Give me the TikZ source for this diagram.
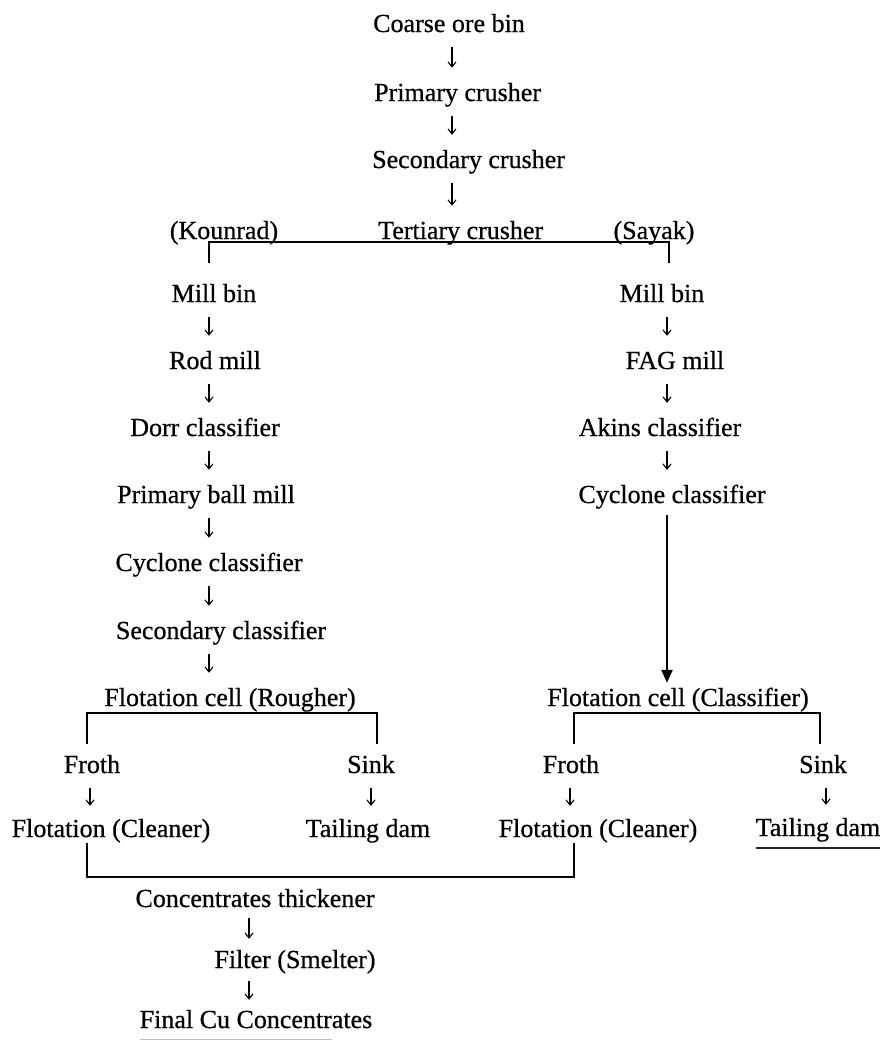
\documentclass[tikz,border=0pt]{standalone}
\usepackage{fontspec}
\setmainfont[FakeBold=0.6]{Liberation Serif}
\usetikzlibrary{arrows.meta}
\begin{document}
\begin{tikzpicture}[x=1pt,y=-1pt,
  lbl/.style={inner sep=0pt,text height=18pt,text depth=6pt,anchor=base,
              font=\fontsize{26}{30}\selectfont},
  lblw/.style={lbl,anchor=base west},
  flow/.style={line width=1.1pt,-{Straight Barb[length=5pt,width=8pt]},
               shorten <=9pt,shorten >=15pt},
  feed/.style={line width=2.4pt,-{Triangle[length=13pt,width=11pt]},
               shorten <=6pt,shorten >=5pt},
  bar/.style={line width=1.8pt}]
\useasboundingbox[fill=white] (0,0) rectangle (884,1045);

% column guides
\coordinate (ctop) at (452,0);
\coordinate (cL) at (209,0);
\coordinate (cR) at (667,0);
\coordinate (cB) at (249,0);

% crushing line
\node[lblw] (coarse) at (373,32)  {Coarse ore bin};
\node[lblw] (prim)   at (374,101) {Primary crusher};
\node[lblw] (sec)    at (372,168) {Secondary crusher};
\node[lblw] (ter)    at (378,239) {Tertiary crusher};
\node[lbl]  (kou)    at (224,239) {(Kounrad)};
\node[lbl]  (say)    at (654,239) {(Sayak)};

% Kounrad grinding line
\node[lbl] (millL) at (214,302) {Mill bin};
\node[lbl] (rod)   at (215,369) {Rod mill};
\node[lbl] (dorr)  at (205,436) {Dorr classifier};
\node[lbl] (pball) at (206,503) {Primary ball mill};
\node[lbl] (cycL)  at (209,571) {Cyclone classifier};
\node[lbl] (secc)  at (221,639) {Secondary classifier};
\node[lbl] (fcRo)  at (230,706) {Flotation cell (Rougher)};

% Sayak grinding line
\node[lbl] (millR) at (662,302) {Mill bin};
\node[lbl] (fag)   at (675,369) {FAG mill};
\node[lbl] (akins) at (660,436) {Akins classifier};
\node[lbl] (cycR)  at (672,503) {Cyclone classifier};
\node[lbl] (fcCl)  at (678,706) {Flotation cell (Classifier)};

% flotation products
\node[lbl] (frothL) at (92,773)  {Froth};
\node[lbl] (sinkL)  at (371,773) {Sink};
\node[lbl] (frothR) at (571,773) {Froth};
\node[lbl] (sinkR)  at (823,773) {Sink};
\node[lbl] (cleanL) at (111,837) {Flotation (Cleaner)};
\node[lbl] (tailL)  at (368,837) {Tailing dam};
\node[lbl] (cleanR) at (598,837) {Flotation (Cleaner)};
\node[lbl] (tailR)  at (818,836) {Tailing dam};

% concentrate handling
\node[lbl] (conc)  at (255,907)  {Concentrates thickener};
\node[lbl] (filt)  at (295,968)  {Filter (Smelter)};
\node[lbl] (final) at (256,1028) {Final Cu Concentrates};

% crushing arrows
\draw[flow] (coarse.south -| ctop) -- (prim.north -| ctop);
\draw[flow] (prim.south -| ctop) -- (sec.north -| ctop);
\draw[flow] (sec.south -| ctop) -- (ter.north -| ctop);

% split to the two plants
\coordinate (jL) at (209,242);
\coordinate (jR) at (669,242);
\draw[bar] ([yshift=21pt]millL.north -| jL) -- (jL) -- (jR) -- ([yshift=21pt]millR.north -| jR);

% Kounrad arrows
\draw[flow] (millL.south -| cL) -- (rod.north -| cL);
\draw[flow] (rod.south -| cL) -- (dorr.north -| cL);
\draw[flow] (dorr.south -| cL) -- (pball.north -| cL);
\draw[flow] (pball.south -| cL) -- (cycL.north -| cL);
\draw[flow] (cycL.south -| cL) -- (secc.north -| cL);
\draw[flow] (secc.south -| cL) -- (fcRo.north -| cL);

% Sayak arrows
\draw[flow] (millR.south -| cR) -- (fag.north -| cR);
\draw[flow] (fag.south -| cR) -- (akins.north -| cR);
\draw[flow] (akins.south -| cR) -- (cycR.north -| cR);
\draw[feed] (cycR.south -| cR) -- (fcCl.north -| cR);

% rougher split
\coordinate (rL) at (87,713);
\coordinate (rR) at (377,713);
\draw[bar] ([yshift=11pt]frothL.north -| rL) -- (rL) -- (rR) -- ([yshift=11pt]sinkL.north -| rR);

% classifier split
\coordinate (kL) at (574,713);
\coordinate (kR) at (820,713);
\draw[bar] ([yshift=11pt]frothR.north -| kL) -- (kL) -- (kR) -- ([yshift=11pt]sinkR.north -| kR);

% froth and sink arrows
\coordinate (c1) at (90,0);
\coordinate (c2) at (371,0);
\coordinate (c3) at (570,0);
\coordinate (c4) at (826,0);
\draw[flow,shorten >=13pt] (frothL.south -| c1) -- (cleanL.north -| c1);
\draw[flow,shorten >=13pt] (sinkL.south -| c2) -- (tailL.north -| c2);
\draw[flow,shorten >=13pt] (frothR.south -| c3) -- (cleanR.north -| c3);
\draw[flow,shorten >=13pt] (sinkR.south -| c4) -- (tailR.north -| c4);

% cleaner concentrates join
\coordinate (bL) at (87,877);
\coordinate (bR) at (574,877);
\draw[bar] (cleanL.south -| bL) -- (bL) -- (bR) -- (cleanR.south -| bR);

% thickener to final product
\draw[flow,shorten <=5pt,shorten >=11pt] (conc.south -| cB) -- (filt.north -| cB);
\draw[flow,shorten <=7pt,shorten >=10pt] (filt.south -| cB) -- (final.north -| cB);

% underlines
\draw[line width=2.6pt,black!85] ([yshift=-12pt]tailR.base west) -- ([yshift=-12pt]tailR.base east);
\draw[line width=0.8pt,black!25] ([yshift=-11pt]final.base west) -- ([yshift=-11pt,xshift=-40pt]final.base east);
\end{tikzpicture}
\end{document}
